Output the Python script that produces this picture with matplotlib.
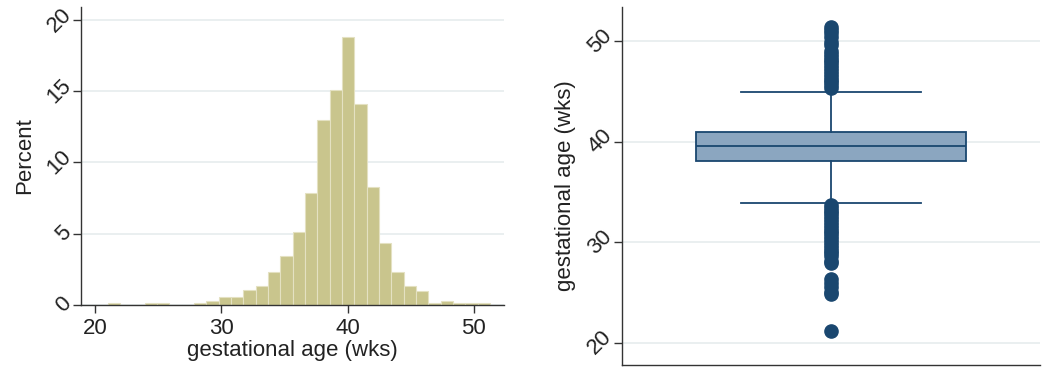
import numpy as np
import matplotlib
matplotlib.use("Agg")
import matplotlib.pyplot as plt

plt.rcParams['font.family'] = ['Liberation Sans', 'DejaVu Sans']

# histogram: percent per bin, bins of ~0.98 wk starting at 21
bin_start = 21.0
bin_width = 0.977
pct = [0.16, 0, 0, 0.16, 0.16, 0, 0, 0.15, 0.3, 0.55, 0.55, 1.05, 1.35, 2.3,
       3.45, 5.1, 7.85, 12.95, 15.1, 18.8, 14.1, 8.3, 4.35, 2.3, 1.35, 0.95,
       0.15, 0.3, 0.15, 0.15, 0.15]

# box plot summary
q1, med, q3 = 38.1, 39.6, 41.0
whis_lo, whis_hi = 33.9, 45.0
fliers_hi = [45.3, 45.6, 45.9, 46.1, 46.4, 46.7, 47.0, 47.3, 47.6, 47.9, 48.1,
             48.4, 48.7, 49.0, 49.6, 49.9, 50.4, 50.8, 51.1, 51.4]
fliers_lo = [33.7, 33.4, 33.1, 32.9, 32.6, 32.3, 32.0, 31.7, 31.4, 31.1, 30.9,
             30.6, 30.3, 30.0, 29.7, 29.4, 29.1, 28.9, 28.6, 28.1, 27.9, 26.3,
             26.0, 25.6, 25.1, 24.9, 21.2]

navy = '#1A476F'
grid_c = '#E6ECEE'
txt_c = '#222222'

fig = plt.figure(figsize=(10.45, 3.72), dpi=100)
ax1 = fig.add_axes([0.0775, 0.180, 0.405, 0.801])
ax2 = fig.add_axes([0.595, 0.019, 0.400, 0.962])

# left: histogram
lefts = bin_start + bin_width * np.arange(len(pct))
ax1.bar(lefts, pct, width=bin_width, align='edge', color='#C9C58D',
        edgecolor='#E4E1C2', linewidth=0.8, zorder=2)
ax1.set_xlim(18.9, 52.4)
ax1.set_ylim(0, 20.9)
ax1.set_xticks([20, 30, 40, 50])
ax1.set_yticks([0, 5, 10, 15, 20])
ax1.set_xlabel('gestational age (wks)', fontsize=16, color=txt_c, labelpad=1)
ax1.set_ylabel('Percent', fontsize=16, color=txt_c, labelpad=6)

# right: box plot
stats = [{'med': med, 'q1': q1, 'q3': q3, 'whislo': whis_lo, 'whishi': whis_hi,
          'fliers': fliers_hi + fliers_lo}]
ax2.bxp(stats, positions=[1], widths=1.29, capwidths=0.86, patch_artist=True,
        boxprops=dict(facecolor='#8BA6C0', edgecolor=navy, linewidth=1.3),
        medianprops=dict(color=navy, linewidth=1.3),
        whiskerprops=dict(color=navy, linewidth=1.3),
        capprops=dict(color=navy, linewidth=1.3),
        flierprops=dict(marker='o', markersize=9.5, markerfacecolor=navy,
                        markeredgecolor=navy, linestyle='none'),
        zorder=3)
ax2.set_xlim(0, 2)
ax2.set_ylim(17.8, 53.4)
ax2.set_xticks([])
ax2.set_yticks([20, 30, 40, 50])
ax2.set_ylabel('gestational age (wks)', fontsize=16, color=txt_c, labelpad=6)

for ax in (ax1, ax2):
    ax.spines['top'].set_visible(False)
    ax.spines['right'].set_visible(False)
    for s in ('left', 'bottom'):
        ax.spines[s].set_color('#333333')
        ax.spines[s].set_linewidth(1.0)
    ax.yaxis.grid(True, color=grid_c, linewidth=1.2, zorder=0)
    ax.set_axisbelow(True)
    ax.tick_params(axis='both', direction='out', length=6, width=1,
                   color='#333333', labelsize=16, labelcolor=txt_c, pad=3)
    ax.tick_params(axis='y', pad=-2)
    for lab in ax.get_yticklabels():
        lab.set_rotation(45)
        lab.set_va('center')
        lab.set_ha('right')

plt.savefig('out.png', dpi=100)
